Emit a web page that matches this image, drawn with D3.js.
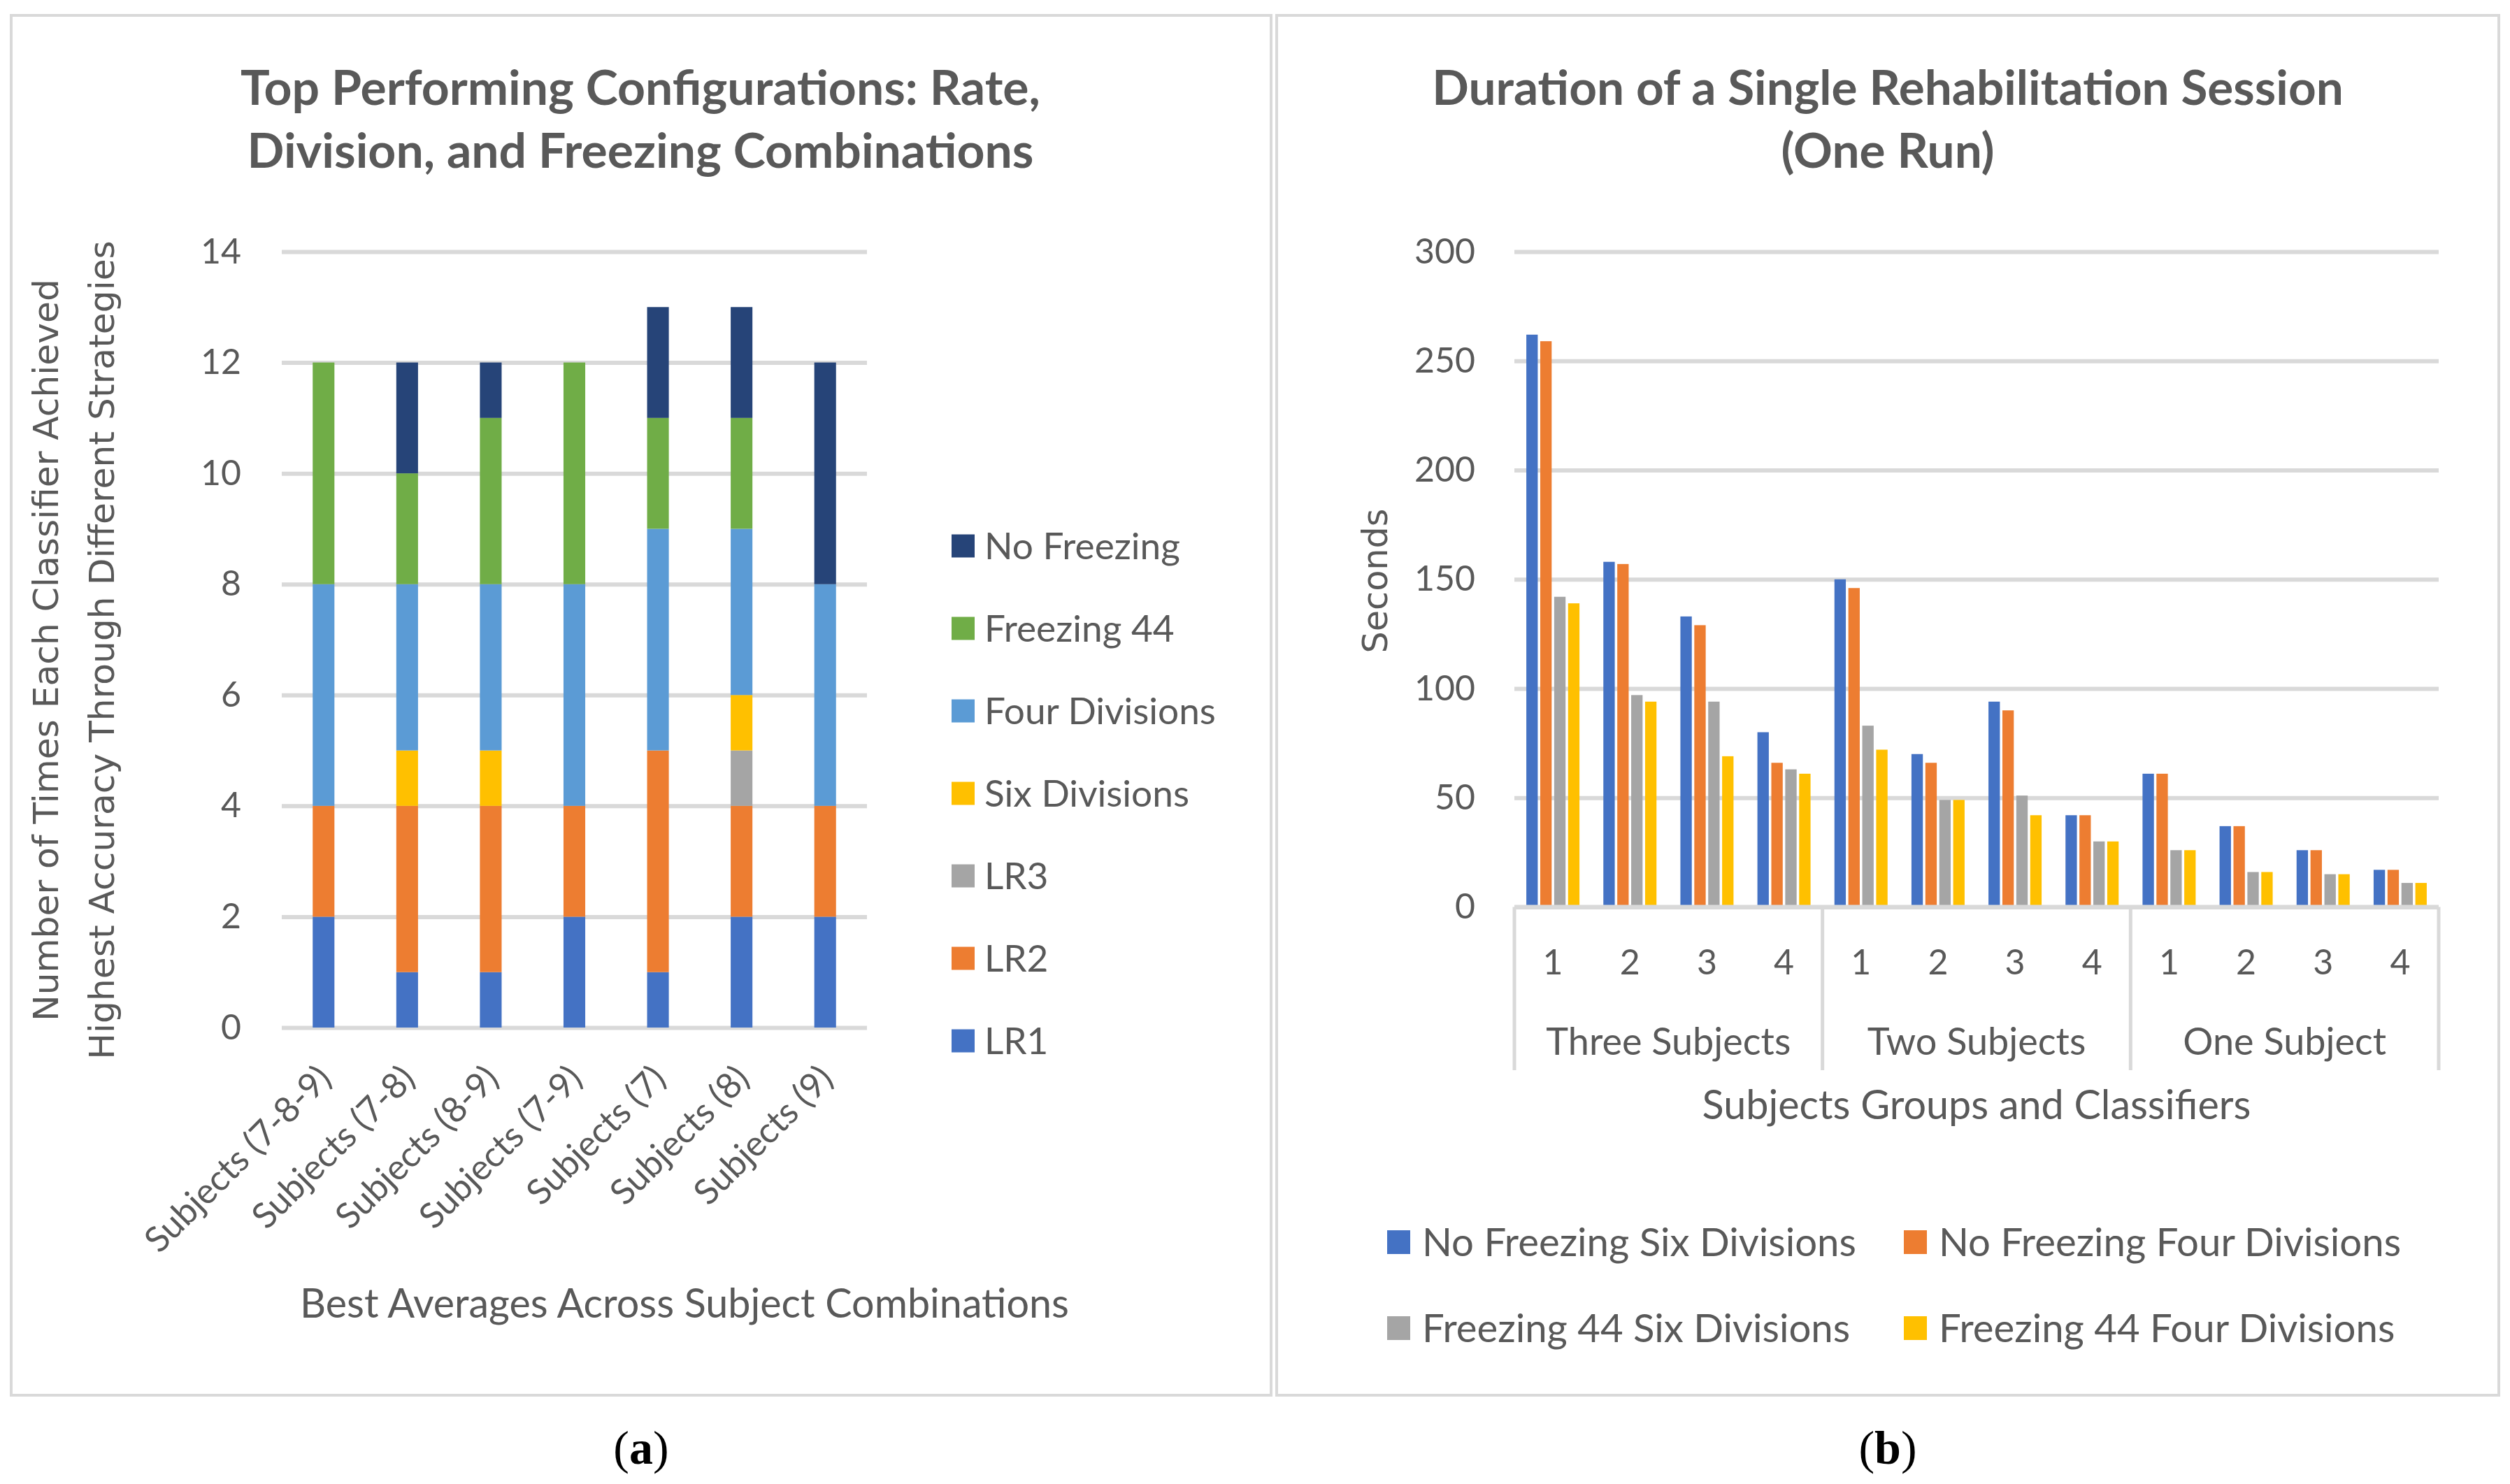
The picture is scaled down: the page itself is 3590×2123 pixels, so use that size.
<!DOCTYPE html>
<html><head><meta charset="utf-8">
<script src="https://cdn.jsdelivr.net/npm/d3@7"></script>
<style>body{margin:0;background:#fff} svg{display:block}</style>
</head><body><svg id="c" width="3590" height="2123"></svg>
<script>
// ---------- Data: chart (a) ----------
const subjectCombos = ["Subjects (7-8-9)","Subjects (7-8)","Subjects (8-9)","Subjects (7-9)","Subjects (7)","Subjects (8)","Subjects (9)"];
const stackKeys = ["LR1","LR2","LR3","Six Divisions","Four Divisions","Freezing 44","No Freezing"];
const lr1        = [2,1,1,2,1,2,2];
const lr2        = [2,3,3,2,4,2,2];
const lr3        = [0,0,0,0,0,1,0];
const sixDiv     = [0,1,1,0,0,1,0];
const fourDiv    = [4,3,3,4,4,3,4];
const freezing44 = [4,2,3,4,2,2,0];
const noFreezing = [0,2,1,0,2,2,4];
const leftTicks  = [0,2,4,6,8,10,12,14];
const stackColors = ["#4472C4","#ED7D31","#A5A5A5","#FFC000","#5B9BD5","#70AD47","#264478"];

// ---------- Data: chart (b) ----------
const groups = ["Three Subjects","Two Subjects","One Subject"];
const classifiers = ["1","2","3","4"];
const durKeys = ["No Freezing Six Divisions","No Freezing Four Divisions","Freezing 44 Six Divisions","Freezing 44 Four Divisions"];
const nfSix   = [262,158,133,80,150,70,94,42,61,37,26,17];
const nfFour  = [259,157,129,66,146,66,90,42,61,37,26,17];
const f44Six  = [142,97,94,63,83,49,51,30,26,16,15,11];
const f44Four = [139,94,69,61,72,49,42,30,26,16,15,11];
const rightTicks = [0,50,100,150,200,250,300];
const durColors = ["#4472C4","#ED7D31","#A5A5A5","#FFC000"];

// ---------- helpers ----------
const svg = d3.select("#c");
const TXT = "#595959", GRID = "#D9D9D9";
const SANS = "Lato, 'Open Sans', sans-serif";
const WIDE = "'DejaVu Sans', Verdana, sans-serif";
function fitSize(str, target, family, weight){
  const t = svg.append("text").attr("font-family",family).attr("font-weight",weight||"normal")
    .attr("font-size",100).text(str);
  const w = t.node().getComputedTextLength(); t.remove();
  return 100*target/w;
}
function txt(g, x, y, s, size, opts){
  opts = opts||{};
  return g.append("text").attr("x",x).attr("y",y).text(s)
    .attr("font-family",opts.family||SANS).attr("font-size",size)
    .attr("font-weight",opts.weight||"normal").attr("fill",opts.fill||TXT)
    .attr("text-anchor",opts.anchor||"middle");
}

// panel frames
svg.append("rect").attr("x",16).attr("y",22).attr("width",1802).attr("height",1974)
  .attr("fill","none").attr("stroke",GRID).attr("stroke-width",4);
svg.append("rect").attr("x",1826).attr("y",22).attr("width",1748).attr("height",1974)
  .attr("fill","none").attr("stroke",GRID).attr("stroke-width",4);

// captions
[["a",917],["b",2700]].forEach(([l,x])=>{
  const t = svg.append("text").attr("x",x).attr("y",2094).attr("text-anchor","middle")
    .attr("font-family","'Liberation Serif','Times New Roman',serif").attr("font-size",68).attr("fill","#000");
  t.append("tspan").text("(");
  t.append("tspan").attr("font-weight","bold").text(l);
  t.append("tspan").text(")");
});

// ================= Chart (a) =================
{
  const g = svg.append("g");
  const x = d3.scaleBand().domain(subjectCombos).range([403,1240]).paddingInner(0.74).paddingOuter(0.37);
  const y = d3.scaleLinear().domain([0,14]).range([1470,360]);

  // title
  const ts = fitSize("Top Performing Configurations: Rate,", 1144, SANS, "bold");
  txt(g,916,150,"Top Performing Configurations: Rate,",ts,{weight:"bold"});
  txt(g,916,240,"Division, and Freezing Combinations",ts,{weight:"bold"});

  // grid
  const ya = d3.axisLeft(y).tickValues(leftTicks).tickSize(-(1240-403)).tickPadding(58);
  const ag = g.append("g").attr("transform","translate(403,0)").call(ya);
  ag.select(".domain").remove();
  ag.selectAll(".tick line").attr("stroke",GRID).attr("stroke-width",6);
  ag.selectAll(".tick text").attr("font-family",SANS).attr("font-size",50).attr("fill",TXT);

  // stacked bars
  const rows = subjectCombos.map((c,i)=>({cat:c,"LR1":lr1[i],"LR2":lr2[i],"LR3":lr3[i],
    "Six Divisions":sixDiv[i],"Four Divisions":fourDiv[i],"Freezing 44":freezing44[i],"No Freezing":noFreezing[i]}));
  const stacked = d3.stack().keys(stackKeys)(rows);
  g.selectAll("g.layer").data(stacked).join("g").attr("class","layer")
    .attr("fill",(d,i)=>stackColors[i])
    .selectAll("rect").data(d=>d.filter(p=>p[1]-p[0]>0)).join("rect")
    .attr("x",d=>x(d.data.cat)).attr("width",x.bandwidth())
    .attr("y",d=>y(d[1])).attr("height",d=>y(d[0])-y(d[1]));

  // x labels rotated
  const xs = fitSize("Subjects (7-8-9)", 352, SANS);
  subjectCombos.forEach(c=>{
    const cx = x(c)+x.bandwidth()/2;
    g.append("text").attr("transform",`translate(${cx+14},1546) rotate(-45)`)
      .attr("text-anchor","end").attr("font-family",SANS).attr("font-size",xs).attr("fill",TXT).text(c);
  });

  // x title
  txt(g,979,1885,"Best Averages Across Subject Combinations",fitSize("Best Averages Across Subject Combinations",1100,SANS));

  // y title
  const ys = fitSize("Highest Accuracy Through Different Strategies",1172,WIDE);
  g.append("text").attr("transform","translate(83,930) rotate(-90)").attr("text-anchor","middle")
    .attr("font-family",WIDE).attr("font-size",ys).attr("fill",TXT).text("Number of Times Each Classifier Achieved");
  g.append("text").attr("transform","translate(163,930) rotate(-90)").attr("text-anchor","middle")
    .attr("font-family",WIDE).attr("font-size",ys).attr("fill",TXT).text("Highest Accuracy Through Different Strategies");

  // legend
  const ls = fitSize("Four Divisions",331,SANS);
  const legOrder = stackKeys.slice().reverse();
  legOrder.forEach((k,i)=>{
    const cy = 781 + i*118;
    g.append("rect").attr("x",1361).attr("y",cy-16.5).attr("width",33).attr("height",33)
      .attr("fill",stackColors[stackKeys.indexOf(k)]);
    txt(g,1408,cy,k,ls,{anchor:"start"}).attr("dy","0.36em");
  });
}

// ================= Chart (b) =================
{
  const g = svg.append("g");
  const cats = [];
  groups.forEach(gr=>classifiers.forEach(c=>cats.push(gr+"|"+c)));
  const x0 = d3.scaleBand().domain(cats).range([2166,3488]);
  const inner = 76;
  const x1 = d3.scaleBand().domain(durKeys).range([0,inner]).paddingInner(0.18);
  const y = d3.scaleLinear().domain([0,300]).range([1297.5,360]);

  const ts = fitSize("Duration of a Single Rehabilitation Session",1304,SANS,"bold");
  txt(g,2700,150,"Duration of a Single Rehabilitation Session",ts,{weight:"bold"});
  txt(g,2700,240,"(One Run)",ts,{weight:"bold"});

  const ya = d3.axisLeft(y).tickValues(rightTicks).tickSize(-(3488-2166)).tickPadding(56);
  const ag = g.append("g").attr("transform","translate(2166,0)").call(ya);
  ag.select(".domain").remove();
  ag.selectAll(".tick line").attr("stroke",GRID).attr("stroke-width",6);
  ag.selectAll(".tick text").attr("font-family",SANS).attr("font-size",50).attr("fill",TXT);

  const series = [nfSix,nfFour,f44Six,f44Four];
  const rows = cats.map((c,i)=>({cat:c, vals:durKeys.map((k,j)=>({key:k,v:series[j][i],j}))}));
  const off = (x0.bandwidth()-inner)/2;
  g.selectAll("g.cl").data(rows).join("g").attr("class","cl")
    .attr("transform",d=>`translate(${x0(d.cat)+off},0)`)
    .selectAll("rect").data(d=>d.vals).join("rect")
    .attr("x",d=>x1(d.key)).attr("width",x1.bandwidth())
    .attr("y",d=>y(d.v)).attr("height",d=>y(0)-y(d.v)).attr("fill",d=>durColors[d.j]);

  // category axis (multi-level)
  const y0 = y(0);
  g.append("line").attr("x1",2166).attr("x2",3488).attr("y1",y0).attr("y2",y0)
    .attr("stroke",GRID).attr("stroke-width",6);
  d3.range(groups.length+1).forEach(i=>{
    const xx = i < groups.length ? x0(groups[i]+"|1") : x0(cats[cats.length-1]) + x0.bandwidth();
    g.append("line").attr("x1",xx).attr("x2",xx).attr("y1",y0).attr("y2",1531)
      .attr("stroke",GRID).attr("stroke-width",5);
  });
  cats.forEach(c=>{
    txt(g,x0(c)+x0.bandwidth()/2,1394,c.split("|")[1],50);
  });
  const gs = fitSize("Three Subjects",350,SANS);
  groups.forEach(gr=>{
    const a = x0(gr+"|1"), b = x0(gr+"|4")+x0.bandwidth();
    txt(g,(a+b)/2,1509,gr,gs);
  });
  txt(g,2827,1601,"Subjects Groups and Classifiers",fitSize("Subjects Groups and Classifiers",785,SANS));

  // y title
  g.append("text").attr("transform","translate(1984,831) rotate(-90)").attr("text-anchor","middle")
    .attr("font-family",WIDE).attr("font-size",fitSize("Seconds",207,WIDE)).attr("fill",TXT).text("Seconds");

  // legend
  const ls = fitSize("No Freezing Six Divisions",621,SANS);
  const pos = [[1984,1777],[2723,1777],[1984,1900],[2723,1900]];
  durKeys.forEach((k,i)=>{
    const [lx,cy] = pos[i];
    g.append("rect").attr("x",lx).attr("y",cy-17).attr("width",33).attr("height",34).attr("fill",durColors[i]);
    txt(g,lx+50,cy,k,ls,{anchor:"start"}).attr("dy","0.36em");
  });
}
</script></body></html>
